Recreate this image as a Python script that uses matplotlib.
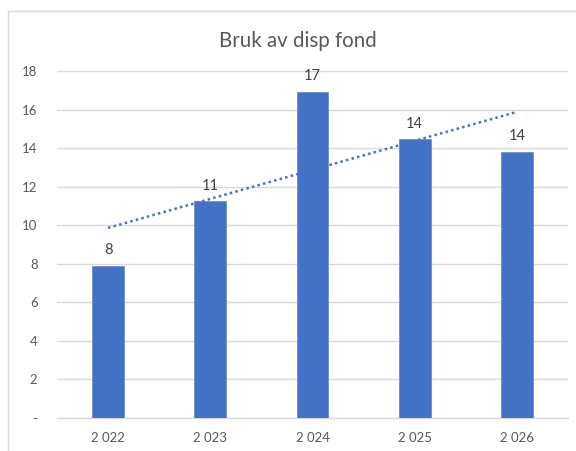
import numpy as np
import matplotlib
matplotlib.use('Agg')
import matplotlib.pyplot as plt
from matplotlib.patches import Rectangle

plt.rcParams['font.family'] = ['Lato', 'DejaVu Sans']

# data
years = ['2 022', '2 023', '2 024', '2 025', '2 026']
values = [7.9, 11.26, 16.92, 14.46, 13.82]
yticks = [0, 2, 4, 6, 8, 10, 12, 14, 16, 18]
ytick_labels = ['-', '2', '4', '6', '8', '10', '12', '14', '16', '18']

BAR = '#4472C4'
TXT = '#595959'
GRID = '#D9D9D9'

fig = plt.figure(figsize=(5.76, 4.51), dpi=100)
ax = fig.add_axes([57/576, 1 - 418/451, (568 - 57)/576, (418 - 71)/451])

x = np.arange(len(years))
ax.bar(x, values, width=0.31, color=BAR, edgecolor='#6C8FD0', linewidth=0.6, zorder=3)

# data labels
for xi, v in zip(x, values):
    ax.annotate(f'{v:.0f}', (xi, v), xytext=(0, 6), textcoords='offset points',
                ha='center', va='bottom', fontsize=10.5, color='#404040')

# linear trendline (like Excel)
k, b = np.polyfit(x, values, 1)
ax.plot(x, k * x + b, color=BAR, linestyle=(0, (1, 1.3)), linewidth=1.8, zorder=4)

ax.set_xlim(-0.5, len(years) - 0.5)
ax.set_ylim(0, 18)
ax.set_xticks(x)
ax.set_xticklabels(years)
ax.set_yticks(yticks)
ax.set_yticklabels(ytick_labels)
ax.tick_params(length=0, labelsize=9.5, colors=TXT)
ax.tick_params(axis='x', pad=10)
ax.tick_params(axis='y', pad=14)
ax.grid(axis='y', color=GRID, linewidth=1, zorder=0)
for s in ['top', 'right', 'left']:
    ax.spines[s].set_visible(False)
ax.spines['bottom'].set_color(GRID)
ax.spines['bottom'].set_linewidth(1)

fig.text(298/576, 1 - 41/451, 'Bruk av disp fond', ha='center', va='center',
         fontsize=14.8, color=TXT)

# outer chart border (only left/top visible in the crop)
fig.patches.append(Rectangle((8/576, -0.1), 1.2, 1 - 11/451 + 0.1,
                             transform=fig.transFigure, fill=False,
                             edgecolor=GRID, linewidth=1))

fig.savefig('out.png', dpi=100)
